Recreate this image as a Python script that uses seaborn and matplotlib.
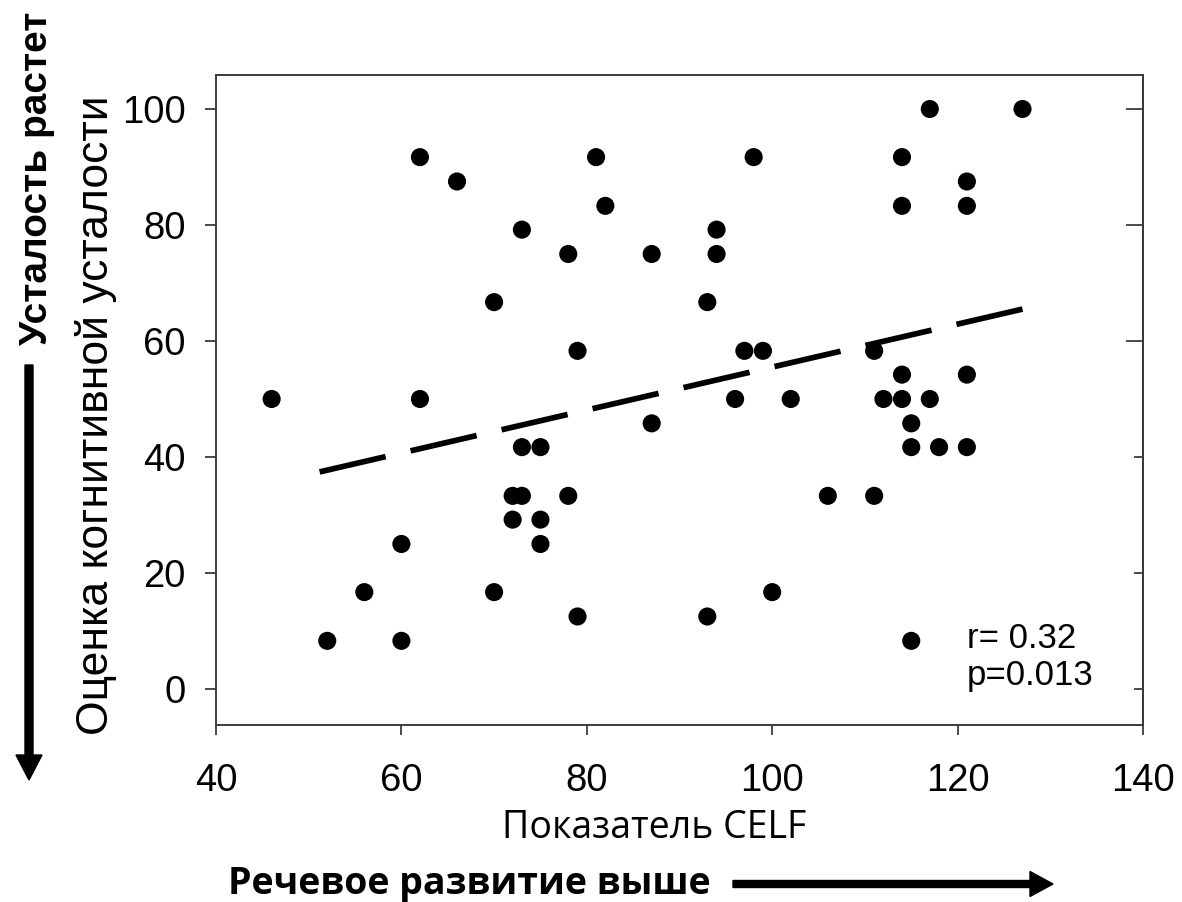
import matplotlib
matplotlib.use("Agg")
import matplotlib.pyplot as plt
from matplotlib.patches import FancyArrow
from matplotlib.transforms import IdentityTransform
import seaborn as sns

# CELF language score vs. cognitive fatigue rating, one point per participant
celf = [46, 52, 56, 60, 60, 62, 62, 66, 70, 70,
        72, 72, 73, 73, 73, 75, 75, 75, 78, 78,
        79, 79, 81, 82, 87, 87, 93, 93, 94, 94,
        96, 97, 98, 99, 100, 102, 106, 111, 111, 112,
        114, 114, 114, 114, 115, 115, 115, 117, 117, 118,
        121, 121, 121, 121, 127]
fatigue = [50.0, 8.3, 16.7, 25.0, 8.3, 91.7, 50.0, 87.5, 66.7, 16.7,
           33.3, 29.2, 79.2, 41.7, 33.3, 41.7, 29.2, 25.0, 75.0, 33.3,
           58.3, 12.5, 91.7, 83.3, 75.0, 45.8, 66.7, 12.5, 79.2, 75.0,
           50.0, 58.3, 91.7, 58.3, 16.7, 50.0, 33.3, 58.3, 33.3, 50.0,
           91.7, 83.3, 54.2, 50.0, 45.8, 41.7, 8.3, 100.0, 50.0, 41.7,
           87.5, 83.3, 54.2, 41.7, 100.0]

# linear trend (drawn from the right end towards the left)
trend_x = [127, 50.3]
trend_y = [65.5, 37.1]

x_ticks = [40, 60, 80, 100, 120, 140]
y_ticks = [0, 20, 40, 60, 80, 100]

r_text = "r= 0.32"
p_text = "p=0.013"

sns.set_style("ticks")
plt.rcParams["font.family"] = ["Liberation Sans", "DejaVu Sans"]
plt.rcParams["text.color"] = "black"
plt.rcParams["axes.labelcolor"] = "black"

W, H = 1182, 902
fig = plt.figure(figsize=(W / 100, H / 100), dpi=100)
ax = fig.add_axes([216 / W, 1 - 725 / H, 927 / W, 650 / H])

sns.scatterplot(x=celf, y=fatigue, color="black", s=170, edgecolor="none",
                linewidth=0, ax=ax, legend=False, zorder=3)
ax.plot(trend_x, trend_y, color="black", lw=4.1, dashes=(11.9, 4.5),
        solid_capstyle="butt", dash_capstyle="butt", zorder=2)

ax.set_xlim(40, 140)
ax.set_ylim(-6.21, 105.86)
ax.set_xticks(x_ticks)
ax.set_yticks(y_ticks)

spine_col = "#3c3c3c"
for s in ax.spines.values():
    s.set_visible(True)
    s.set_color(spine_col)
    s.set_linewidth(1.4)

ax.tick_params(axis="x", direction="out", length=7.2, width=1.3, color=spine_col,
               pad=20, labelsize=27.5, labelcolor="black")
ax.tick_params(axis="y", direction="out", length=8, width=1.3, color=spine_col,
               pad=14, labelsize=27.5, labelcolor="black")

# inward ticks mirrored on the right edge
sec = ax.secondary_yaxis("right")
sec.set_yticks([60, 80, 100])
sec.set_yticks([0, 20, 40], minor=True)
sec.tick_params(which="major", direction="in", length=12, width=1.3, color=spine_col,
                labelright=False)
sec.tick_params(which="minor", direction="in", length=6.5, width=1.3, color=spine_col,
                labelright=False)
sec.spines["right"].set_color(spine_col)
sec.spines["right"].set_linewidth(1.4)

ax.set_xlabel("Показатель CELF", family=["Open Sans", "DejaVu Sans"], fontsize=27,
              ha="left", va="baseline", color="black")
ax.xaxis.set_label_coords((502 - 216) / 927, (725 - 838) / 650)
ax.set_ylabel("Оценка когнитивной усталости", family=["Liberation Sans", "DejaVu Sans"],
              fontsize=32, ha="left", va="baseline", rotation_mode="anchor",
              color="black")
ax.yaxis.set_label_coords((108 - 216) / 927, (725 - 735) / 650)

ax.text(121.0, 7.07, r_text, fontsize=25, ha="left", va="baseline", color="black")
ax.text(121.0, 0.69, p_text, fontsize=25, ha="left", va="baseline", color="black")

# direction hints outside the axes
fig.text(228 / W, 8 / H, "Речевое развитие выше", family=["Open Sans", "DejaVu Sans"],
         fontweight="bold", fontsize=27, ha="left", va="baseline", color="black")
fig.text(47 / W, (H - 345) / H, "Усталость растет",
         family=["Liberation Sans Narrow", "Liberation Sans"], fontweight="bold",
         fontsize=28, rotation=90, rotation_mode="anchor", ha="left", va="baseline",
         color="black")

fig.patches.append(FancyArrow(733, 18, 320, 0, width=7, head_width=25, head_length=23,
                              length_includes_head=True, color="black",
                              transform=IdentityTransform(), figure=fig))
fig.patches.append(FancyArrow(29, H - 365, 0, -415, width=8, head_width=26, head_length=25,
                              length_includes_head=True, color="black",
                              transform=IdentityTransform(), figure=fig))

fig.savefig("out.png", dpi=100)
